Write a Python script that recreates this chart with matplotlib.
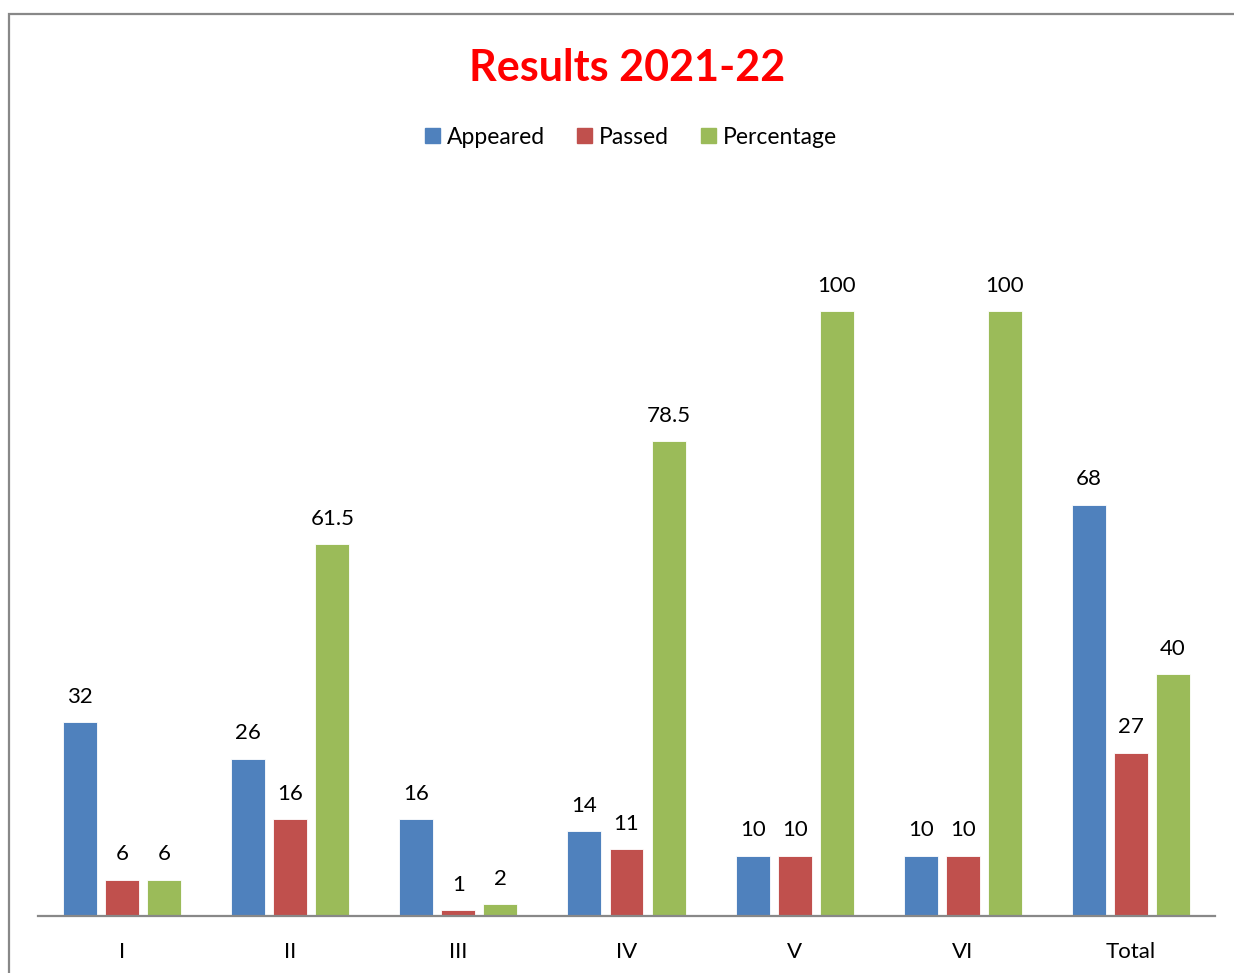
import matplotlib
matplotlib.use("Agg")
import matplotlib.pyplot as plt
from matplotlib.patches import Rectangle
import numpy as np

categories = ["I", "II", "III", "IV", "V", "VI", "Total"]
appeared = [32, 26, 16, 14, 10, 10, 68]
passed = [6, 16, 1, 11, 10, 10, 27]
percentage = [6, 61.5, 2, 78.5, 100, 100, 40]
series_names = ["Appeared", "Passed", "Percentage"]
colors = ["#4F81BD", "#C0504D", "#9BBB59"]

plt.rcParams['font.family'] = ['Lato', 'DejaVu Sans']

W, H = 1234, 973
fig = plt.figure(figsize=(W / 100, H / 100), dpi=100)

# outer chart border
fig.patches.append(Rectangle((9 / W, -0.1), 1.2, 1 - 14 / H + 0.1, transform=fig.transFigure,
                             fill=False, edgecolor="#888888", linewidth=1.6))

ax_left, ax_right = 38, 1215
ax_bottom, y0, y100 = 916, 916, 311
ymax = 120
ppu = (y0 - y100) / 100
ax_top = y0 - ymax * ppu
ax = fig.add_axes([ax_left / W, 1 - ax_bottom / H, (ax_right - ax_left) / W, (ax_bottom - ax_top) / H])

x = np.arange(len(categories))
offsets = [-0.25, 0, 0.25]
width = 0.202
for vals, off, c, name in zip([appeared, passed, percentage], offsets, colors, series_names):
    bars = ax.bar(x + off, vals, width, color=c, label=name, edgecolor="white", linewidth=0.6)
    for b, v in zip(bars, vals):
        ax.annotate(f"{v:g}", (b.get_x() + b.get_width() / 2, v), xytext=(0, 11),
                    textcoords="offset points", ha="center", va="bottom", fontsize=16, color="black")

ax.set_xlim(-0.5, len(categories) - 0.5)
ax.set_ylim(0, ymax)
ax.set_xticks(x)
ax.set_xticklabels(categories, fontsize=16)
ax.tick_params(axis="x", length=0, pad=19)
ax.set_yticks([])
for s in ["top", "right", "left"]:
    ax.spines[s].set_visible(False)
ax.spines["bottom"].set_color("#888888")
ax.spines["bottom"].set_linewidth(1.6)

fig.text(627 / W, 1 - 68 / H, "Results 2021-22", ha="center", va="center",
         fontsize=31, fontweight="bold", color="#FF0000")

handles = [Rectangle((0, 0), 1, 1, color=c) for c in colors]
fig.legend(handles, series_names, loc="center", bbox_to_anchor=(631 / W, 1 - 137 / H),
           ncol=3, frameon=False, fontsize=16.5, handlelength=0.65, handleheight=0.65,
           handletextpad=0.3, columnspacing=1.4)

fig.savefig("out.png", dpi=100)
